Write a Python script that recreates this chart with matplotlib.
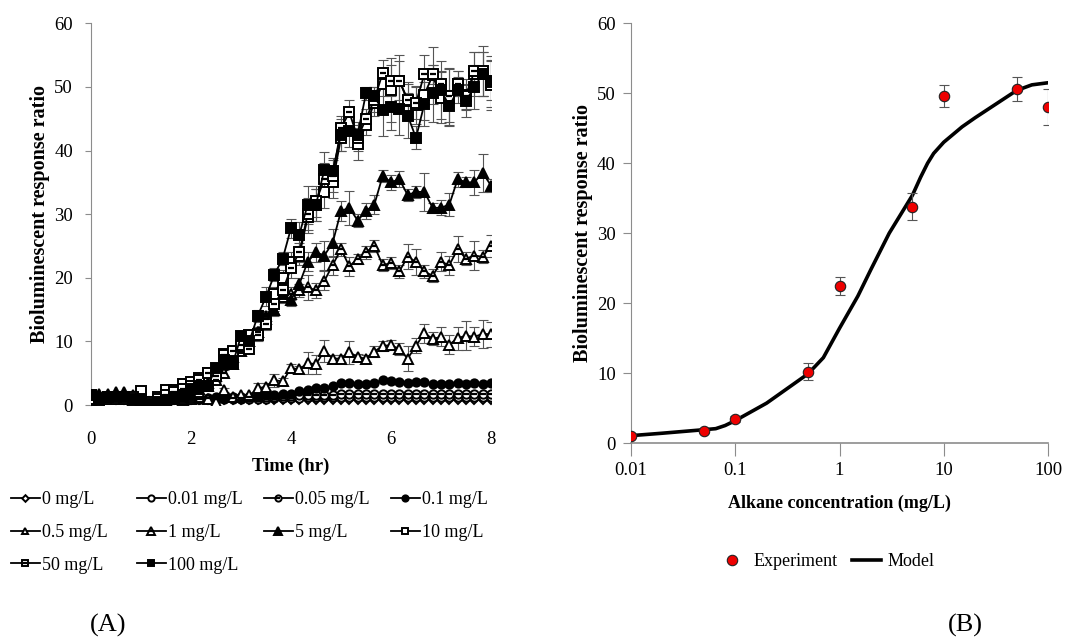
import numpy as np
import matplotlib
matplotlib.use("Agg")
import matplotlib.pyplot as plt
from matplotlib.legend_handler import HandlerTuple

plt.rcParams['font.family'] = ['Liberation Serif', 'DejaVu Serif']

# ---------------- Panel A data ----------------
time_hr = np.arange(49) / 6.0

c0 = [0.8, 0.8, 0.9, 0.8, 0.8, 0.8, 0.7, 0.6, 0.7, 0.8, 0.8, 0.8, 0.8, 0.8, 0.8, 0.7, 0.8, 0.8, 0.8, 0.8,
      0.8, 0.8, 0.8, 0.8, 0.8, 0.8, 0.8, 0.8, 0.8, 0.8, 0.8, 0.8, 0.8, 0.8, 0.8, 0.8, 0.8, 0.8, 0.8, 0.8,
      0.8, 0.8, 0.8, 0.8, 0.8, 0.8, 0.8, 0.8, 0.8]
c001 = [1.0, 1.0, 1.0, 1.0, 1.0, 0.9, 0.8, 0.6, 0.8, 0.9, 1.0, 1.0, 1.0, 1.0, 1.0, 0.9, 1.0, 1.0, 1.0, 1.0,
        1.0, 1.0, 1.1, 1.1, 1.1, 1.1, 1.2, 1.2, 1.2, 1.2, 1.2, 1.2, 1.2, 1.2, 1.2, 1.3, 1.2, 1.2, 1.2, 1.2,
        1.2, 1.2, 1.2, 1.2, 1.2, 1.2, 1.2, 1.2, 1.2]
c005 = [1.0, 1.1, 1.0, 1.1, 1.0, 1.0, 0.9, 0.6, 0.8, 0.9, 1.0, 1.0, 1.0, 1.0, 1.1, 1.0, 1.1, 1.1, 1.1, 1.2,
        1.2, 1.3, 1.3, 1.4, 1.4, 1.5, 1.5, 1.5, 1.6, 1.6, 1.7, 1.7, 1.7, 1.7, 1.7, 1.8, 1.7, 1.7, 1.7, 1.7,
        1.7, 1.7, 1.7, 1.7, 1.7, 1.7, 1.7, 1.7, 1.7]
c01 = [1.0, 1.2, 1.0, 1.0, 1.0, 0.9, 0.8, 0.6, 0.8, 0.9, 1.0, 1.0, 1.2, 1.0, 1.0, 1.2, 1.3, 1.2, 1.3, 1.3,
       1.4, 1.5, 1.6, 1.8, 1.8, 2.2, 2.4, 2.7, 2.7, 3.0, 3.5, 3.5, 3.3, 3.3, 3.5, 3.9, 3.7, 3.6, 3.5, 3.6,
       3.6, 3.3, 3.3, 3.3, 3.4, 3.3, 3.5, 3.3, 3.4]
c05 = [0.8, 1.0, 1.0, 1.0, 1.0, 0.8, 0.8, 0.5, 0.8, 0.8, 1.0, 0.8, 1.0, 1.2, 1.0, 0.5, 2.3, 1.3, 1.5, 1.5,
       2.6, 2.9, 3.9, 3.7, 5.8, 5.6, 6.6, 6.4, 8.5, 7.3, 7.3, 8.3, 7.5, 7.3, 8.4, 9.3, 9.4, 8.8, 7.3, 9.3,
       11.3, 10.4, 10.7, 9.5, 10.5, 10.9, 10.7, 11.2, 11.1]
c1 = [1.0, 1.2, 1.2, 1.2, 1.5, 1.2, 1.0, 0.5, 0.8, 1.0, 1.0, 1.0, 1.2, 2.0, 3.0, 4.0, 5.0, 6.5, 8.5, 10.0,
      11.5, 13.5, 15.0, 17.0, 17.5, 18.0, 18.5, 18.0, 19.5, 22.0, 24.5, 21.8, 23.0, 24.0, 25.0, 22.0, 22.3, 21.0, 23.3, 22.5,
      21.0, 20.3, 22.5, 22.0, 24.5, 23.0, 23.5, 23.3, 25.0]
c5 = [1.5, 1.8, 1.8, 2.0, 2.0, 1.5, 1.0, 0.5, 0.8, 1.0, 1.0, 1.2, 1.5, 2.5, 3.5, 4.5, 6.5, 7.5, 9.0, 10.0,
      11.5, 14.0, 15.0, 17.5, 16.5, 19.0, 22.5, 24.0, 23.5, 25.5, 30.5, 31.0, 29.0, 30.5, 31.5, 36.0, 35.0, 35.5, 33.0, 33.5,
      33.5, 31.0, 31.0, 31.5, 35.5, 35.0, 35.0, 36.5, 34.5]
c10 = [1.0, 0.8, 1.0, 1.0, 1.2, 1.0, 2.2, 0.5, 1.2, 2.4, 2.4, 3.3, 3.6, 4.2, 5.0, 4.8, 8.0, 8.3, 9.0, 11.0,
       11.2, 13.0, 17.5, 20.0, 22.5, 23.5, 29.5, 31.5, 33.5, 35.0, 42.0, 44.5, 41.0, 44.0, 47.5, 50.5, 49.5, 51.0, 47.8, 47.2,
       48.8, 51.8, 48.3, 48.3, 50.5, 48.8, 52.0, 52.0, 50.3]
c50 = [1.5, 1.0, 1.2, 1.0, 1.0, 1.2, 1.0, 0.5, 1.0, 1.5, 2.0, 2.5, 3.0, 4.0, 5.0, 4.5, 7.8, 8.5, 9.5, 8.8,
       11.0, 12.8, 15.8, 18.0, 21.5, 24.0, 30.0, 32.0, 35.5, 36.0, 43.5, 46.0, 42.0, 45.0, 48.0, 52.2, 51.0, 51.0, 48.0, 47.5,
       52.0, 52.0, 50.5, 48.5, 50.5, 48.5, 52.5, 52.5, 50.8]
c100 = [1.5, 1.0, 1.2, 1.2, 1.2, 1.0, 0.8, 0.2, 0.5, 0.8, 1.2, 1.5, 2.5, 3.0, 3.0, 5.8, 7.0, 6.5, 10.8, 10.0,
        14.0, 17.0, 20.5, 23.0, 27.8, 26.8, 31.5, 31.5, 37.0, 36.8, 42.5, 43.0, 42.5, 49.0, 48.5, 46.3, 46.8, 46.5, 45.5, 42.0,
        47.3, 49.0, 49.5, 47.0, 49.5, 47.8, 50.0, 52.0, 51.0]

e05 = [0.2, 0.2, 0.2, 0.2, 0.2, 0.2, 0.2, 0.2, 0.2, 0.2, 0.2, 0.2, 0.2, 0.2, 0.2, 0.2, 0.3, 0.3, 0.3, 0.3,
       0.8, 0.5, 1.0, 0.6, 0.6, 0.5, 1.8, 1.5, 1.7, 0.6, 0.5, 1.8, 0.5, 0.5, 0.8, 0.8, 0.8, 1.0, 2.0, 1.2,
       1.5, 1.0, 1.5, 1.5, 1.8, 2.3, 1.5, 2.2, 2.0]
e1 = [0.2, 0.2, 0.2, 0.2, 0.2, 0.2, 0.2, 0.2, 0.2, 0.2, 0.2, 0.2, 0.3, 0.3, 0.3, 0.4, 0.5, 0.5, 0.6, 0.6,
      0.8, 0.8, 1.0, 1.0, 1.0, 1.0, 2.0, 1.2, 1.5, 1.5, 1.0, 1.5, 0.8, 1.0, 1.0, 1.0, 1.0, 1.0, 2.0, 2.0,
      1.0, 1.0, 1.5, 1.5, 2.0, 1.0, 2.3, 1.0, 1.8]
e5 = [0.2, 0.2, 0.2, 0.2, 0.2, 0.2, 0.2, 0.2, 0.2, 0.2, 0.2, 0.2, 0.3, 0.3, 0.4, 0.4, 0.5, 0.5, 0.8, 0.8,
      0.8, 0.8, 0.8, 0.8, 1.0, 1.0, 1.5, 1.5, 2.3, 2.2, 1.5, 2.7, 1.0, 1.2, 1.5, 1.0, 1.2, 1.3, 1.0, 1.0,
      3.0, 0.8, 1.2, 1.8, 1.2, 0.8, 2.0, 3.0, 1.0]
e10 = [0.3, 0.3, 0.3, 0.3, 0.3, 0.3, 0.3, 0.3, 0.3, 0.3, 0.3, 0.3, 0.3, 0.3, 0.4, 0.4, 0.5, 0.5, 0.6, 0.6,
       1.0, 1.0, 1.0, 1.2, 1.5, 1.5, 2.5, 2.5, 2.5, 2.5, 2.0, 2.0, 2.5, 1.5, 2.0, 2.0, 5.0, 4.0, 3.0, 3.0,
       4.0, 4.5, 4.0, 4.5, 2.0, 2.5, 3.5, 3.5, 4.0]
e50 = [0.3, 0.3, 0.3, 0.3, 0.3, 0.3, 0.3, 0.3, 0.3, 0.3, 0.3, 0.3, 0.3, 0.3, 0.4, 0.4, 0.5, 0.5, 0.6, 0.6,
       1.0, 1.0, 1.0, 1.2, 1.5, 1.5, 2.5, 2.5, 2.5, 2.5, 2.0, 2.0, 2.0, 1.5, 2.0, 2.0, 2.5, 3.0, 2.5, 2.5,
       3.0, 1.5, 2.0, 4.5, 2.0, 2.0, 3.0, 4.0, 4.0]
e100 = [0.3, 0.3, 0.3, 0.3, 0.3, 0.3, 0.3, 0.3, 0.3, 0.3, 0.3, 0.3, 0.3, 0.3, 0.4, 0.4, 0.5, 0.5, 0.5, 0.5,
        1.0, 1.5, 1.0, 1.0, 1.5, 2.0, 3.0, 2.5, 2.8, 2.0, 2.5, 2.5, 2.0, 1.0, 1.5, 4.0, 3.5, 4.0, 3.5, 1.8,
        3.5, 4.5, 4.5, 2.5, 2.0, 2.5, 3.5, 3.5, 3.0]

labels_a = ['0 mg/L', '0.01 mg/L', '0.05 mg/L', '0.1 mg/L', '0.5 mg/L',
            '1 mg/L', '5 mg/L', '10 mg/L', '50 mg/L', '100 mg/L']

# ---------------- Panel B data ----------------
conc = [0.01, 0.05, 0.1, 0.5, 1, 5, 10, 50, 100]
resp = [1.0, 1.7, 3.4, 10.2, 22.5, 33.8, 49.6, 50.6, 48.0]
resp_err = [0.3, 0.3, 0.4, 1.2, 1.3, 1.9, 1.6, 1.7, 2.6]
model_conc = [0.01, 0.02, 0.05, 0.065, 0.08, 0.1, 0.2, 0.5, 0.7, 1, 1.5, 2, 3, 5, 6, 7, 8, 10, 15, 20, 50, 70, 100]
model_resp = [1.05, 1.4, 1.9, 2.05, 2.5, 3.2, 5.7, 9.9, 12.2, 16.4, 21.0, 24.8, 30.0, 35.4, 38.0, 40.0, 41.4, 43.0,
              45.2, 46.5, 50.4, 51.2, 51.5]

GRAY = '#8c8c8c'
ERR = '#555555'
FS = 13.5

fig = plt.figure(figsize=(10.8, 6.42), dpi=100)

# ---------------- Panel A ----------------
axA = fig.add_axes([91 / 1080, 1 - 405 / 642, 400 / 1080, (405 - 23.3) / 642])

styles = [
    dict(marker='D', mfc='white', ms=4.5),   # 0
    dict(marker='o', mfc='white', ms=6),     # 0.01
    dict(marker='o', mfc='white', ms=6),     # 0.05 (with bar)
    dict(marker='o', mfc='black', ms=6),     # 0.1
    dict(marker='^', mfc='white', ms=6.5),   # 0.5
    dict(marker='^', mfc='white', ms=7),     # 1 (with bar)
    dict(marker='^', mfc='black', ms=7),     # 5
    dict(marker='s', mfc='white', ms=6.5),   # 10
    dict(marker='s', mfc='white', ms=6.5),   # 50 (with bar)
    dict(marker='s', mfc='black', ms=6.5),   # 100
]
bars = [False, False, True, False, False, True, False, False, True, False]
series = [c0, c001, c005, c01, c05, c1, c5, c10, c50, c100]
errs = [None, None, None, None, e05, e1, e5, e10, e50, e100]

handles = []
for y, e, st, bar, lab in zip(series, errs, styles, bars, labels_a):
    if e is not None:
        axA.errorbar(time_hr, y, yerr=e, fmt='none', ecolor=ERR, elinewidth=0.8,
                     capsize=3.5, capthick=0.8, zorder=1)
    ln, = axA.plot(time_hr, y, color='black', lw=1.3, marker=st['marker'],
                   mfc=st['mfc'], mec='black', mew=1.4, ms=st['ms'], zorder=3)
    if bar:
        ov, = axA.plot(time_hr, y, ls='none', marker='_', color='black',
                       ms=st['ms'] * 0.7, mew=1.6, zorder=4)
        handles.append((ln, ov))
    else:
        handles.append(ln)

axA.set_xlim(0, 8)
axA.set_ylim(0, 60)
axA.set_xticks([0, 2, 4, 6, 8])
axA.set_yticks(np.arange(0, 61, 10))
for s in ['top', 'right', 'bottom']:
    axA.spines[s].set_visible(False)
axA.spines['left'].set_color(GRAY)
axA.tick_params(axis='y', direction='out', length=4, color=GRAY, labelsize=FS, pad=9)
axA.tick_params(axis='x', length=0, labelsize=FS, pad=19)
axA.set_xlabel('Time (hr)', fontsize=13.5, fontweight='bold', labelpad=7)
axA.set_ylabel('Bioluminescent response ratio', fontsize=14.5, fontweight='bold', labelpad=3)

# legend: 4 columns laid out row-wise
col_x = [11, 137, 264, 391]
top_y = 1 - 491 / 642
for ci in range(4):
    idx = [ci + 4 * r for r in range(3) if ci + 4 * r < len(labels_a)]
    hs = [handles[i] for i in idx]
    ls = [labels_a[i] for i in idx]
    fig.legend(hs, ls, loc='upper left', bbox_to_anchor=(col_x[ci] / 1080, top_y),
               frameon=False, fontsize=13, handlelength=1.6, handletextpad=0.1,
               labelspacing=0.88, borderaxespad=0, borderpad=0, markerscale=0.75,
               numpoints=1, handler_map={tuple: HandlerTuple(ndivide=1, pad=0)})

# ---------------- Panel B ----------------
axB = fig.add_axes([631 / 1080, 1 - 443 / 642, 417 / 1080, (443 - 23.3) / 642])
axB.set_xscale('log')
axB.plot(model_conc, model_resp, color='black', lw=2.6, zorder=2, label='Model')
axB.errorbar(conc, resp, yerr=resp_err, fmt='none', ecolor=ERR, elinewidth=0.8,
             capsize=3.5, capthick=0.8, zorder=3)
axB.plot(conc, resp, ls='none', marker='o', ms=7.5, mfc='#ee0000', mec='#222222',
         mew=0.8, zorder=4, label='Experiment')
axB.set_xlim(0.01, 100)
axB.set_ylim(0, 60)
axB.set_xticks([0.01, 0.1, 1, 10, 100])
axB.set_xticklabels(['0.01', '0.1', '1', '10', '100'])
axB.xaxis.set_minor_locator(matplotlib.ticker.NullLocator())
axB.set_yticks(np.arange(0, 61, 10))
for s in ['top', 'right']:
    axB.spines[s].set_visible(False)
axB.spines['left'].set_color(GRAY)
axB.spines['bottom'].set_color(GRAY)
axB.spines['bottom'].set_linewidth(1.2)
axB.tick_params(axis='y', direction='out', length=6, color=GRAY, labelsize=FS, pad=5)
axB.tick_params(axis='x', direction='out', length=9, color=GRAY, labelsize=FS, pad=5)
axB.set_xlabel('Alkane concentration (mg/L)', fontsize=13, fontweight='bold', labelpad=11)
axB.set_ylabel('Bioluminescent response ratio', fontsize=14.5, fontweight='bold', labelpad=3)
hB, lB = axB.get_legend_handles_labels()
fig.legend([hB[1], hB[0]], [lB[1], lB[0]], loc='center', bbox_to_anchor=(826 / 1080, 1 - 562 / 642),
           ncol=2, frameon=False, fontsize=13, handlelength=1.6, handletextpad=0.4,
           columnspacing=0.8, numpoints=1, borderpad=0)

fig.text(108 / 1080, 1 - 625 / 642, '(A)', fontsize=19, ha='center', va='center')
fig.text(965 / 1080, 1 - 625 / 642, '(B)', fontsize=19, ha='center', va='center')

fig.savefig('out.png', dpi=100)
